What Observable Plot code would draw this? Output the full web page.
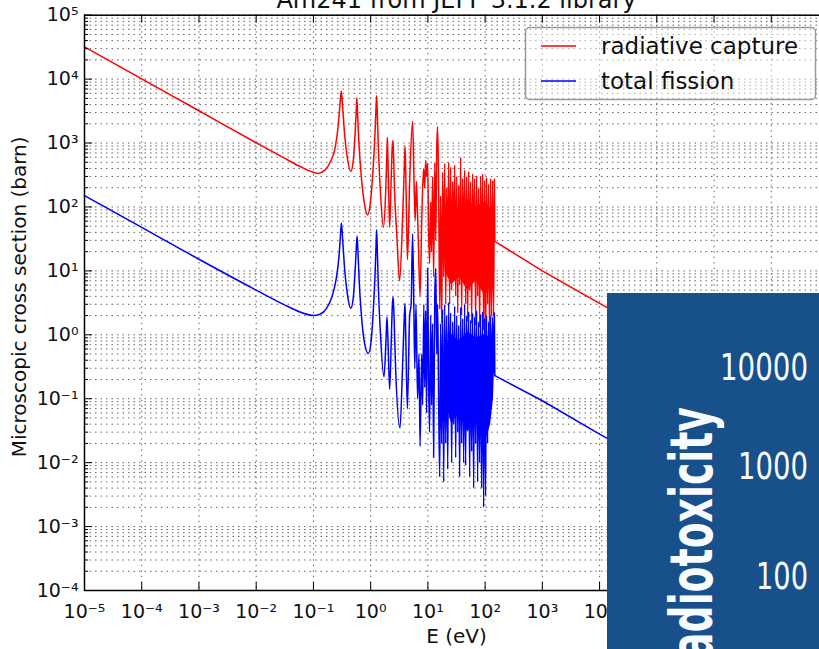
<!DOCTYPE html>
<html><head><meta charset="utf-8">
<script src="https://cdn.jsdelivr.net/npm/d3@7"></script>
<script src="https://cdn.jsdelivr.net/npm/@observablehq/plot@0.6"></script>
<style>
html,body{margin:0;padding:0;background:#fff;overflow:hidden;width:819px;height:649px;}
#wrap{position:relative;width:819px;height:649px;overflow:hidden;}
#wrap svg{position:absolute;left:0;top:0;max-width:none !important;}
</style></head><body><div id="wrap"></div>
<script>
const chartTitle = "Am241 from JEFF 3.1.2 library";
const xLabel = "E (eV)";
const yLabel = "Microscopic cross section (barn)";
const seriesNames = ["radiative capture", "total fission"];
const seriesColors = ["#ff0000", "#0000ff"];
const xTicks = [1e-5,1e-4,1e-3,1e-2,1e-1,1e0,1e1,1e2,1e3,1e4,1e5,1e6,1e7,1e8];
const yTicks = [1e-4,1e-3,1e-2,1e-1,1e0,1e1,1e2,1e3,1e4,1e5];
const minorMult = [2,3,4,5,6,7,8,9];

// radiative capture (barn) vs E (eV)
const captureE = [1e-5,1e-4,1e-3,1e-2,0.03,0.06,0.09,0.12,0.16,0.2,0.24,0.27,0.29,0.307,0.325,0.35,0.39,0.45,0.5,0.535,0.56,0.574,0.59,0.62,0.68,0.77,0.88,0.98,1.1,1.19,1.24,1.27,1.3,1.36,1.47,1.67,1.83,1.93,1.96,2.0,2.08,2.15,2.28,2.38,2.45,2.52,2.62,2.85,3.2,3.6,3.88,3.99,4.1,4.25,4.4,4.8,5.4,5.7,6.0,6.3,6.5,6.8,7.3,7.8,8.4,8.8,9.15,9.5,9.9,10.3,10.7,11.2,11.6,12.1,12.6,13.2,13.7,14.3,14.8,15.4,16.1,
16.7,17.4,18.1,18.9,19.7,20.5,21.3,22.2,23.1,24.0,25.0,26.0,27.1,28.2,29.4,30.6,31.9,33.2,34.5,35.9,37.4,38.9,40.5,42.2,43.9,45.7,47.6,49.5,51.6,53.7,55.9,58.2,60.6,63.0,65.6,68.3,71.1,74.0,77.0,80.2,83.5,86.9,90.5,94.2,98.0,102,106,110.6,115,119.8,124.7,129.8,135.1,140.7,145,148,1000,10000,100000];
const captureXS = [32000,10100,3200,1010,590,425,360,335,380,520,850,1800,3800,6500,3500,1400,600,360,560,1400,3200,5100,3000,1100,330,120,75,110,380,1400,3500,5500,3300,900,200,48,170,800,1230,600,130,48,260,850,1100,600,170,40,7,60,450,900,350,60,15,250,2200,300,62,250,120,30,4,60,400,200,540,300,480,40,13,120,20,300,8,500,30,900,1800,200,2.5,
150,1.5,350,8,480,3,200,12,500,3,420,5,250,20,450,4,300,2.2,220,6,600,2,280,10,380,3,300,1.6,360,5,250,1.5,330,8,280,1.4,310,4,200,1.3,300,6,330,1.2,260,0.7,290,3,230,0.8,280,2,260,1.9,275,29,10,3.1,1.0];

// total fission (barn) vs E (eV)
const fissionE = [1e-5,1e-4,1e-3,1e-2,0.03,0.06,0.1,0.13,0.17,0.21,0.25,0.28,0.295,0.308,0.325,0.35,0.39,0.45,0.5,0.535,0.56,0.58,0.6,0.63,0.69,0.78,0.91,1.02,1.12,1.2,1.245,1.27,1.3,1.36,1.47,1.71,1.85,1.93,2.0,2.15,2.3,2.4,2.47,2.56,2.7,3.26,3.6,3.9,3.99,4.1,4.38,4.8,5.1,5.4,5.65,5.9,6.2,6.6,7.0,7.3,7.8,8.1,8.5,8.8,9.15,9.5,9.9,10.3,10.7,11.2,11.6,12.1,12.6,13.2,13.7,14.3,14.8,15.4,16.1,
16.7,17.4,18.1,18.9,19.7,20.5,21.3,22.2,23.1,24.0,25.0,26.0,27.1,28.2,29.4,30.6,31.9,33.2,34.5,35.9,37.4,38.9,40.5,42.2,43.9,45.7,47.6,49.5,51.6,53.7,55.9,58.2,60.6,63.0,65.6,68.3,71.1,74.0,77.0,80.2,83.5,86.9,90.5,94.2,98.0,102,106,110.6,115,119.8,124.7,129.8,135.1,140.7,145,148,1000,10000,100000];
const fissionXS = [150,48,15.2,5.0,3.0,2.25,2.0,2.1,2.6,3.9,7.5,17,33,56,30,11,4.5,2.6,4,10,22,35,20,7,2,0.75,0.51,0.8,2.7,10,26,44,25,6,1.2,0.22,0.8,1.9,0.9,0.14,0.9,3.0,3.9,2.0,0.4,0.035,0.3,2.2,3.1,1.0,0.07,2,3,38,4,0.3,3,0.1,0.5,0.018,0.5,0.08,3.0,0.15,2.4,0.06,11,0.2,0.03,2,0.08,1.5,0.012,4,11,0.5,3,0.1,0.006,
1.5,0.02,2.5,0.005,3,0.02,2,0.008,3.2,0.05,2.2,0.01,1.6,0.04,2.8,0.012,2,0.03,1.4,0.006,2.7,0.02,1.8,0.01,3,0.009,2,0.04,2.3,0.006,1.7,0.015,2.2,0.004,1.9,0.02,2.4,0.005,1.6,0.01,2.1,0.004,2.3,0.002,1.8,0.003,2,0.02,1.6,0.05,2,0.1,1.9,0.25,2.2,0.23,0.093,0.028,0.009];

// solid core of the dense resonance band (barn)
const bandE = [20, 26, 35, 50, 70, 100, 125, 140, 146];
const captureBandLow = [10, 6, 8, 5, 7, 4, 6, 5, 8];
const captureBandHigh = [60, 110, 90, 130, 100, 120, 95, 110, 100];
const fissionBandLow = [0.1, 0.04, 0.06, 0.03, 0.05, 0.02, 0.04, 0.1, 0.3];
const fissionBandHigh = [0.6, 1.0, 0.8, 1.1, 0.9, 1.0, 0.9, 1.0, 1.0];

// overlay panel labels (pasted picture at the lower right)
const panelTicks = ["10000", "1000", "100"];
const panelTitle = "Radiotoxicity";

const sup = {"-":"\u207B","0":"\u2070","1":"\u00B9","2":"\u00B2","3":"\u00B3","4":"\u2074","5":"\u2075","6":"\u2076","7":"\u2077","8":"\u2078","9":"\u2079"};
const fmt = d => "10" + String(Math.round(Math.log10(d))).split("").map(c => sup[c]).join("");

const capture = captureE.map((E, i) => ({E, xs: captureXS[i]}));
const fission = fissionE.map((E, i) => ({E, xs: fissionXS[i]}));
const band = bandE.map((E, i) => ({E, cl: captureBandLow[i], ch: captureBandHigh[i], fl: fissionBandLow[i], fh: fissionBandHigh[i]}));
const yMinor = yTicks.slice(0, -1).flatMap(t => minorMult.map(m => t * m));
const EDGE = 148;

const W = 828, H = 649, ML = 84, MR = 0, MT = 14.7, MB = 59;
const FW = W - ML - MR, FH = H - MT - MB;
const dot = {stroke: "#666", strokeWidth: 1, strokeDasharray: "1.5,4"};

const chart = Plot.plot({
  width: W, height: H,
  marginLeft: ML, marginRight: MR, marginTop: MT, marginBottom: MB,
  x: {type: "log", domain: [xTicks[0], xTicks[xTicks.length - 1]], axis: null},
  y: {type: "log", domain: [yTicks[0], yTicks[yTicks.length - 1]], axis: null},
  style: {fontFamily: "DejaVu Sans", background: "white", color: "#111", maxWidth: "none"},
  marks: [
    Plot.ruleY(yMinor, {y: d => d, ...dot}),
    Plot.ruleY(yTicks, {y: d => d, ...dot}),
    Plot.ruleX(xTicks, {x: d => d, ...dot}),
    Plot.line(capture.filter(d => d.E <= EDGE), {x: "E", y: "xs", stroke: seriesColors[0], strokeWidth: 1.5, curve: "monotone-x"}),
    Plot.line(capture.filter(d => d.E >= EDGE), {x: "E", y: "xs", stroke: seriesColors[0], strokeWidth: 1.5}),
    Plot.areaY(band, {x: "E", y1: "cl", y2: "ch", fill: seriesColors[0]}),
    Plot.areaY(band, {x: "E", y1: "fl", y2: "fh", fill: seriesColors[1]}),
    Plot.line(fission.filter(d => d.E <= EDGE), {x: "E", y: "xs", stroke: seriesColors[1], strokeWidth: 1.5, curve: "monotone-x"}),
    Plot.line(fission.filter(d => d.E >= EDGE), {x: "E", y: "xs", stroke: seriesColors[1], strokeWidth: 1.5}),
    Plot.tickY(yTicks, {y: d => d, insetRight: FW - 8, stroke: "black", strokeWidth: 1}),
    Plot.tickY(yMinor, {y: d => d, insetRight: FW - 4, stroke: "black", strokeWidth: 1}),
    Plot.tickX(xTicks, {x: d => d, insetTop: FH - 8, stroke: "black", strokeWidth: 1}),
    Plot.tickX(xTicks, {x: d => d, insetBottom: FH - 8, stroke: "black", strokeWidth: 1}),
    Plot.frame({stroke: "black", strokeWidth: 1.5}),
    Plot.axisY(yTicks, {anchor: "left", tickSize: 0, tickPadding: 6, tickFormat: fmt, fontSize: 19, label: null}),
    Plot.axisX(xTicks, {anchor: "bottom", tickSize: 0, tickPadding: 14, tickFormat: fmt, fontSize: 19, label: null}),
    Plot.text([chartTitle], {text: d => d, frameAnchor: "top", lineAnchor: "bottom", dy: -7.5, fontSize: 24}),
    Plot.text([xLabel], {text: d => d, frameAnchor: "bottom", lineAnchor: "middle", dy: 46, fontSize: 20}),
    Plot.text([yLabel], {text: d => d, frameAnchor: "left", textAnchor: "middle", rotate: -90, dx: -65, dy: -6, fontSize: 20})
  ]
});
const wrap = document.getElementById("wrap");
wrap.appendChild(chart);

// legend + pasted panel overlay
const ov = d3.select(wrap).append("svg").attr("width", 819).attr("height", 649)
  .style("font-family", "DejaVu Sans").style("pointer-events", "none");
ov.append("rect").attr("x", 525.5).attr("y", 27.5).attr("width", 290).attr("height", 72).attr("rx", 4)
  .attr("fill", "white").attr("fill-opacity", 0.45).attr("stroke", "#999").attr("stroke-width", 1.5);
seriesNames.forEach((name, i) => {
  const cy = 46 + i * 35;
  ov.append("line").attr("x1", 541).attr("x2", 576).attr("y1", cy).attr("y2", cy)
    .attr("stroke", seriesColors[i]).attr("stroke-width", 1.6);
  ov.append("text").attr("x", 601).attr("y", cy + 8).attr("font-size", 23).attr("fill", "#111").text(name);
});
ov.append("rect").attr("x", 607).attr("y", 293).attr("width", 212).attr("height", 356).attr("fill", "#17508a");
const panelY = [379.5, 478.5, 588.5];
panelTicks.forEach((t, i) => {
  ov.append("text").attr("x", 808).attr("y", panelY[i]).attr("text-anchor", "end")
    .attr("font-size", 37).attr("fill", "#f7fbff")
    .attr("textLength", 18 * t.length - 2).attr("lengthAdjust", "spacingAndGlyphs").text(t);
});
ov.append("text").attr("transform", "translate(712,407) rotate(-90)").attr("text-anchor", "end")
  .attr("font-size", 58).attr("font-weight", "bold").attr("fill", "#f7fbff")
  .attr("textLength", 280).attr("lengthAdjust", "spacingAndGlyphs").text(panelTitle);
</script>
</body></html>
